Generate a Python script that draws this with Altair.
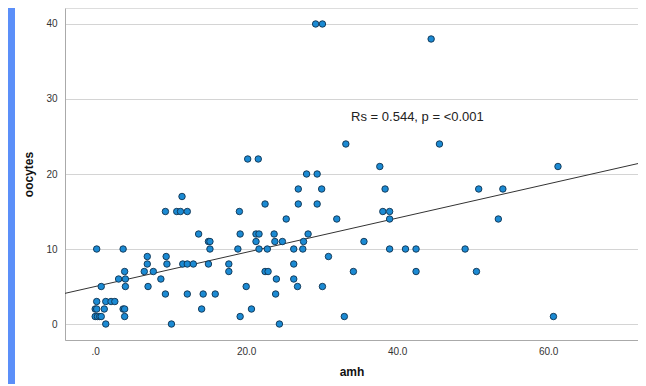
import altair as alt
import pandas as pd

# amh values grouped by oocyte count
groups = {
    0: [1.4, 10.1, 24.4],
    1: [0.0, 0.3, 0.6, 0.8, 3.9, 19.2, 33.0, 60.7],
    2: [0.0, 0.2, 1.2, 3.7, 3.9, 14.1, 20.7],
    3: [0.2, 1.4, 2.1, 2.6],
    4: [9.3, 12.2, 14.3, 15.9, 23.9],
    5: [0.8, 4.0, 7.0, 20.0, 26.8, 30.1],
    6: [3.1, 4.0, 8.7, 24.0, 26.3],
    7: [3.9, 6.5, 7.7, 17.7, 22.5, 22.9, 34.2, 42.5, 50.5],
    8: [6.9, 9.5, 11.6, 12.2, 13.0, 15.0, 17.7, 26.3],
    9: [6.9, 9.4, 30.9],
    10: [0.2, 3.7, 15.2, 18.9, 21.7, 22.8, 26.3, 27.5, 39.0, 41.1, 42.5, 49.0],
    11: [15.0, 15.2, 21.3, 23.8, 24.8, 27.6, 35.6],
    12: [13.7, 19.2, 21.3, 21.7, 23.7, 28.2],
    14: [25.3, 32.0, 39.0, 53.4],
    15: [9.3, 10.8, 11.3, 12.2, 19.1, 38.1, 39.0],
    16: [22.5, 26.9, 29.4],
    17: [11.5],
    18: [26.9, 30.0, 38.4, 50.8, 54.0],
    20: [28.0, 29.4],
    21: [37.7, 61.3],
    22: [20.2, 21.6],
    24: [33.2, 45.6],
    38: [44.5],
    40: [29.2, 30.1],
}

amh = [a for k, v in groups.items() for a in v]
oocytes = [k for k, v in groups.items() for _ in v]

# fitted line
fit_intercept = 5.0
fit_slope = 0.228
x_domain = [-4.0, 71.9]
y_domain = [-2.13, 42.13]

x_tick_values = [0, 20, 40, 60]
x_tick_labels = [".0", "20.0", "40.0", "60.0"]
y_tick_values = [0, 10, 20, 30, 40]

annotation_text = ["Rs = 0.544, p = <0.001"]
annotation_x = [33.9]
annotation_y = [27.6]

df = pd.DataFrame({"amh": amh, "oocytes": oocytes})
ann = pd.DataFrame({"x": annotation_x, "y": annotation_y, "t": annotation_text})
fit_df = pd.DataFrame({"amh": x_domain})

label_expr = "{" + ",".join(f"'{v}':'{l}'" for v, l in zip(x_tick_values, x_tick_labels)) + "}[datum.value]"

xscale = alt.Scale(domain=x_domain, nice=False, zero=False)
yscale = alt.Scale(domain=y_domain, nice=False, zero=False)

xaxis = alt.Axis(
    values=x_tick_values, labelExpr=label_expr, grid=False, ticks=False,
    title="amh", titleFontSize=12, titleFontWeight="bold", titleColor="#111",
    titlePadding=10, labelFontSize=10, labelColor="#333", labelPadding=6,
    domainColor="#aaaaaa", labelFont="Liberation Sans", titleFont="Liberation Sans",
)
yaxis = alt.Axis(
    values=y_tick_values, grid=True, gridColor="#d4d4d4", ticks=False,
    title="oocytes", titleFontSize=12, titleFontWeight="bold", titleColor="#111",
    titlePadding=10, labelFontSize=10, labelColor="#333", labelPadding=8,
    domainColor="#aaaaaa", labelFont="Liberation Sans", titleFont="Liberation Sans",
)

points = alt.Chart(df).mark_circle(
    size=42, color="#1b8ad3", stroke="#10324f", strokeWidth=0.9, opacity=1
).encode(
    x=alt.X("amh:Q", scale=xscale, axis=xaxis),
    y=alt.Y("oocytes:Q", scale=yscale, axis=yaxis),
)

fit = alt.Chart(fit_df).transform_calculate(
    oocytes=f"{fit_intercept} + {fit_slope} * datum.amh"
).mark_line(color="#333333", strokeWidth=1, clip=True).encode(
    x=alt.X("amh:Q", scale=xscale),
    y=alt.Y("oocytes:Q", scale=yscale),
)

text = alt.Chart(ann).mark_text(
    align="left", baseline="middle", fontSize=13, font="Liberation Sans", color="#222"
).encode(
    x=alt.X("x:Q", scale=xscale),
    y=alt.Y("y:Q", scale=yscale),
    text="t:N",
)

strip = alt.Chart(ann).mark_rect(color="#5b8ff9", clip=False).encode(
    x=alt.value(-57), x2=alt.value(-50), y=alt.value(0), y2=alt.value(376)
)

chart = alt.layer(strip, fit, points, text).properties(
    width=573, height=332,
    autosize=alt.AutoSizeParams(type="none"),
    padding={"left": 57, "top": 0, "right": 0, "bottom": 44},
).configure_view(stroke=None).configure(background="white")

chart.save("out.html", embed_options={"renderer": "svg", "actions": False})
